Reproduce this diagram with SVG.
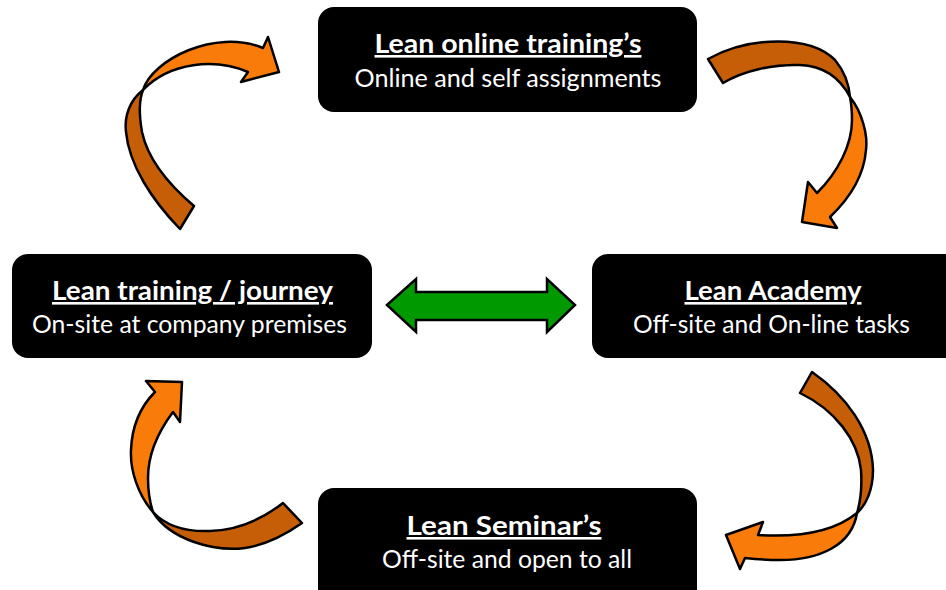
<svg xmlns="http://www.w3.org/2000/svg" width="946" height="590" viewBox="0 0 946 590">
<style>
.box{fill:#000;}
.t{font-family:Lato,"Open Sans","Liberation Sans",sans-serif;font-weight:bold;font-size:26px;fill:#fff;text-anchor:middle;text-decoration:underline;}
.s{font-family:Lato,"Open Sans","Liberation Sans",sans-serif;font-size:25px;fill:#fff;text-anchor:middle;}
.lt{fill:#F97C0B;stroke:#000;stroke-width:2.5;stroke-linejoin:round;}
.dk{fill:#C55E06;stroke:#000;stroke-width:2.5;stroke-linejoin:round;}
.gr{fill:#009A00;stroke:#000;stroke-width:2.5;stroke-linejoin:miter;}
</style>
<rect width="946" height="590" fill="#fff"/>
<g id="connectors">
  <g id="arrow-top-left">
    <path class="dk" d="M143,90 C130,100 124,116 126,132 C129,165 152,200 180,229 L194,206 C168,184 148,160 142,132 C139,115 139,100 143,90 Z"/>
    <path class="lt" d="M143,90 C152,60 215,28 263,48 L268,37 L279,72 L241,82 L248,72 C215,58 170,62 143,90 Z"/>
  </g>
  <g id="arrow-top-right">
    <path class="dk" d="M708,59 C750,36 810,35 835,60 C845,72 849,85 850,97 C840,78 825,66 800,65 C775,64 745,70 723,83 Z"/>
    <path class="lt" d="M850,97 C862,112 868,135 866,150 C864,175 850,198 830,217 L837,228 L802,222 L808,182 L817,193 C838,172 852,145 852,120 C852,110 851,102 850,97 Z"/>
  </g>
  <g id="arrow-bottom-right">
    <path class="dk" d="M812,372 C845,395 872,430 873,470 C873,490 866,505 857,513 C861,500 862,485 861,470 C858,440 835,410 800,393 Z"/>
    <path class="lt" d="M857,513 C852,545 820,560 780,560 C768,560 755,559 745,558 L740,569 L726,535 L763,522 L758,535 C790,537 830,535 857,513 Z"/>
  </g>
  <g id="arrow-bottom-left">
    <path class="dk" d="M153,512 C170,540 215,552 245,548 C265,545 285,535 302,523 L283,503 C265,517 240,530 210,531 C185,532 165,525 153,512 Z"/>
    <path class="lt" d="M153,512 C138,495 130,470 131,450 C132,425 142,405 155,392 L146,381 L182,382 L180,422 L173,412 C158,432 148,455 148,478 C148,492 150,503 153,512 Z"/>
  </g>
  <polygon id="arrow-double" class="gr" points="387,305 416,279 416,292 547,292 547,279 575,305 547,332 547,320 416,320 416,332"/>
</g>
<g id="node-online">
  <rect class="box" x="318" y="7" width="379" height="105" rx="16"/>
  <text class="t" x="508" y="53" textLength="267" lengthAdjust="spacingAndGlyphs">Lean online training’s</text>
  <text class="s" x="508" y="87" textLength="307" lengthAdjust="spacingAndGlyphs">Online and self assignments</text>
</g>
<g id="node-training">
  <rect class="box" x="12" y="254" width="360" height="104" rx="16"/>
  <text class="t" x="192.5" y="300" textLength="281" lengthAdjust="spacingAndGlyphs">Lean training / journey</text>
  <text class="s" x="189.5" y="333" textLength="315" lengthAdjust="spacingAndGlyphs">On-site at company premises</text>
</g>
<g id="node-academy">
  <rect class="box" x="592" y="254" width="374" height="104" rx="16"/>
  <text class="t" x="773" y="300" textLength="177" lengthAdjust="spacingAndGlyphs">Lean Academy</text>
  <text class="s" x="771.5" y="333" textLength="277" lengthAdjust="spacingAndGlyphs">Off-site and On-line tasks</text>
</g>
<g id="node-seminar">
  <rect class="box" x="318" y="488" width="379" height="120" rx="16"/>
  <text class="t" x="504" y="535" textLength="195" lengthAdjust="spacingAndGlyphs">Lean Seminar’s</text>
  <text class="s" x="507" y="568" textLength="250" lengthAdjust="spacingAndGlyphs">Off-site and open to all</text>
</g>
</svg>
